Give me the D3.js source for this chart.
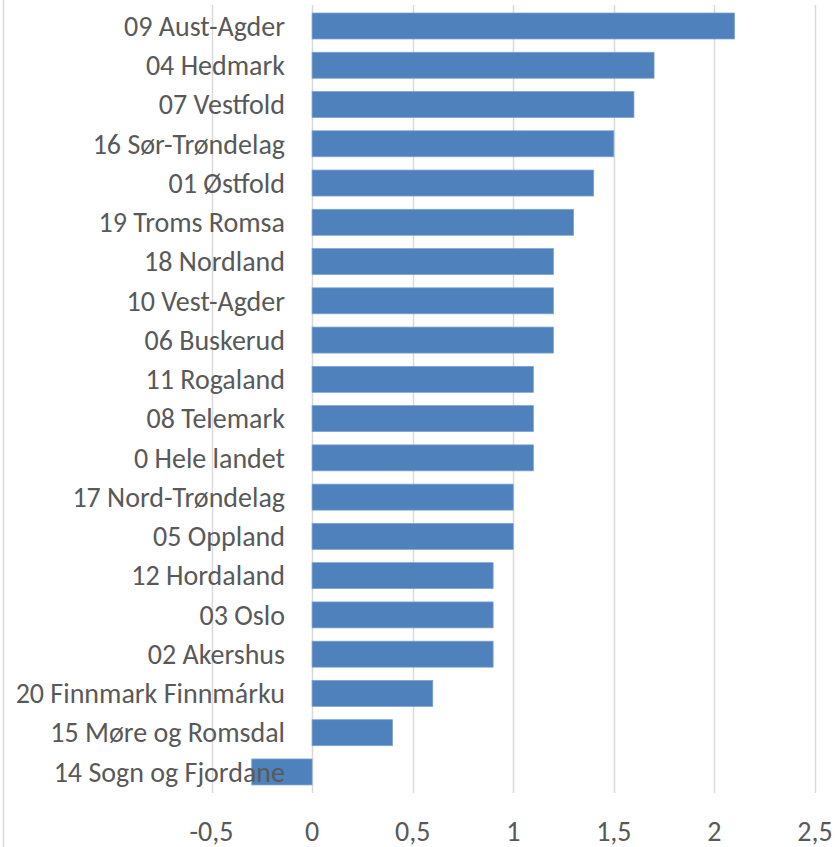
<!DOCTYPE html>
<html><head><meta charset="utf-8">
<script src="https://cdn.jsdelivr.net/npm/d3@7"></script>
<style>body{margin:0;background:#fff;}svg{display:block;}</style>
</head><body>
<svg id="c" width="835" height="847"></svg>
<script>
const categories = ["09 Aust-Agder","04 Hedmark","07 Vestfold","16 Sør-Trøndelag","01 Østfold","19 Troms Romsa","18 Nordland","10 Vest-Agder","06 Buskerud","11 Rogaland","08 Telemark","0 Hele landet","17 Nord-Trøndelag","05 Oppland","12 Hordaland","03 Oslo","02 Akershus","20 Finnmark Finnmárku","15 Møre og Romsdal","14 Sogn og Fjordane"];
const values = [2.1,1.7,1.6,1.5,1.4,1.3,1.2,1.2,1.2,1.1,1.1,1.1,1.0,1.0,0.9,0.9,0.9,0.6,0.4,-0.3];
const ticks = [-0.5,0,0.5,1,1.5,2,2.5];
const tickLabels = ["-0,5","0","0,5","1","1,5","2","2,5"];

const svg = d3.select("#c");
const font = "Carlito, 'Liberation Sans Narrow', 'Open Sans', sans-serif";
const x = d3.scaleLinear().domain([-0.5,2.5]).range([211.5,815]);
const y = d3.scaleBand().domain(categories).range([5.15,792.8]).paddingInner(0.338).paddingOuter(0.2);

svg.append("line").attr("x1",3.5).attr("x2",3.5).attr("y1",0).attr("y2",847).attr("stroke","#d9d9d9").attr("stroke-width",1.5);

// gridlines
svg.append("g").selectAll("line").data(ticks).join("line")
  .attr("x1",d=>Math.round(x(d))+0.5).attr("x2",d=>Math.round(x(d))+0.5)
  .attr("y1",5).attr("y2",793).attr("stroke","#d9d9d9").attr("stroke-width",1.5);

// bars
svg.append("g").selectAll("rect").data(values).join("rect")
  .attr("x",d=>x(Math.min(0,d))).attr("y",(d,i)=>y(categories[i]))
  .attr("width",d=>Math.abs(x(d)-x(0))).attr("height",y.bandwidth())
  .attr("fill","#4f81bd").attr("stroke","#7ea3d3").attr("stroke-width",0.75);

// category labels
svg.append("g").selectAll("text").data(categories).join("text")
  .attr("x",285).attr("y",d=>y(d)+y.bandwidth()/2).attr("dy","0.35em")
  .attr("text-anchor","end").attr("font-family",font).attr("font-size",28)
  .attr("fill","#595959").text(d=>d);

// tick labels
svg.append("g").selectAll("text").data(ticks).join("text")
  .attr("x",d=>x(d)).attr("y",831).attr("dy","0.35em")
  .attr("text-anchor","middle").attr("font-family",font).attr("font-size",28)
  .attr("fill","#595959").text((d,i)=>tickLabels[i]);
</script>
</body></html>
